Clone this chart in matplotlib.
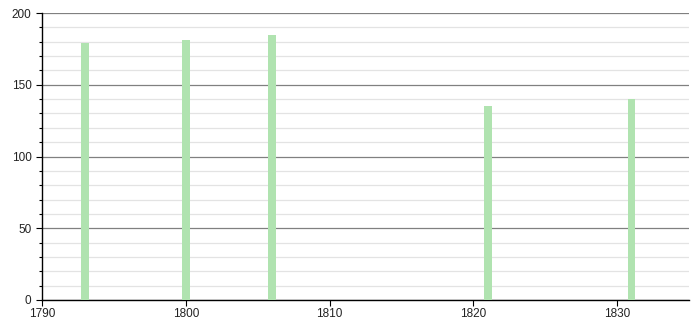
import matplotlib
matplotlib.use("Agg")
import matplotlib.pyplot as plt
from matplotlib.ticker import MultipleLocator

plt.rcParams["font.family"] = ["Liberation Sans", "DejaVu Sans"]

years = [1793, 1800, 1806, 1821, 1831]
values = [179, 181, 185, 135, 140]

fig = plt.figure(figsize=(7, 3.2), dpi=100)
ax = fig.add_axes([42 / 700, 20 / 320, 647 / 700, 287 / 320])

ax.bar(years, values, width=0.55, color="#b0e3b0", zorder=3)

ax.set_xlim(1790, 1835)
ax.set_ylim(0, 200)
ax.xaxis.set_major_locator(MultipleLocator(10))
ax.yaxis.set_major_locator(MultipleLocator(50))
ax.yaxis.set_minor_locator(MultipleLocator(10))

ax.grid(axis="y", which="major", color="#808080", linewidth=0.9, zorder=1)
ax.grid(axis="y", which="minor", color="#e3e3e3", linewidth=0.9, zorder=1)

for s in ["top", "right"]:
    ax.spines[s].set_visible(False)
ax.spines["left"].set_linewidth(1)
ax.spines["bottom"].set_linewidth(1)

ax.tick_params(axis="both", which="major", labelsize=8.5, length=4, width=0.8,
               color="black", labelcolor="#222222")
ax.tick_params(axis="x", which="major", pad=1.5)
ax.tick_params(axis="y", which="minor", length=2, width=0.8)

fig.savefig("out.png", dpi=100)
